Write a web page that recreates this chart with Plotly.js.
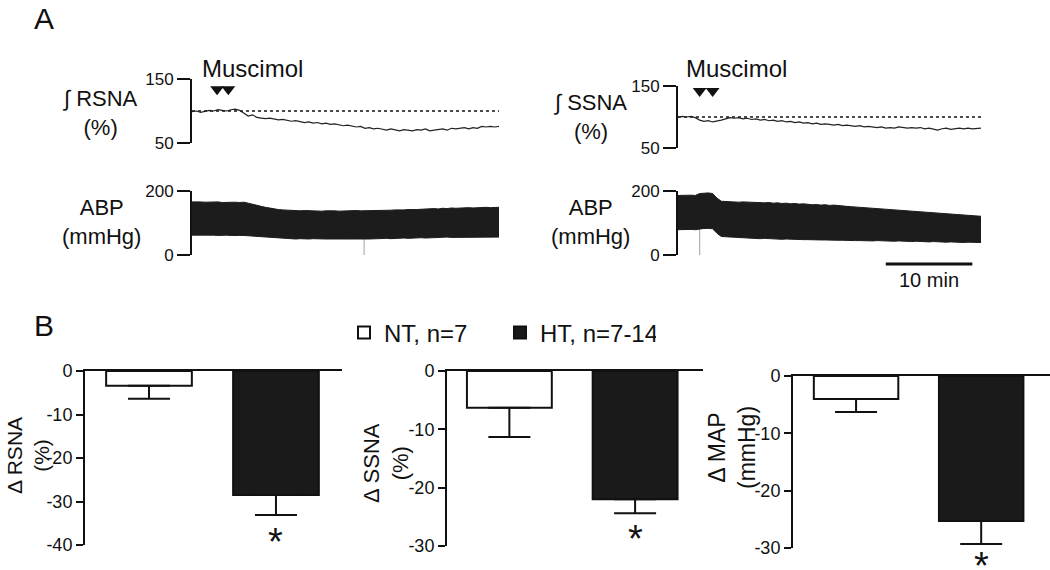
<!DOCTYPE html>
<html>
<head>
<meta charset="utf-8">
<script src="https://cdn.plot.ly/plotly-3.0.1.min.js"></script>
<style>
  html, body { margin: 0; padding: 0; background: #fff; }
  #fig { width: 1050px; height: 570px; }
</style>
</head>
<body>
<div id="fig"></div>
<script>
// ---- Panel A: recordings (sampled every 0.5 min) ----
const sampleStep = 0.5; // min

const rsnaPct = [99, 100, 98, 100, 101, 100, 102, 101, 100, 102, 103, 101, 97, 92, 94, 90,
  89, 88, 89, 87, 86, 87, 85, 84, 85, 83, 82, 83, 81, 82, 80, 81, 79, 80, 78, 77, 78, 76,
  75, 76, 73, 74, 72, 73, 71, 70, 72, 70, 69, 71, 70, 69, 71, 70, 72, 69, 70, 71, 72, 70,
  73, 72, 73, 74, 72, 74, 73, 76, 75, 76, 75, 76];

const ssnaPct = [100, 101, 100, 101, 99, 95, 93, 94, 92, 93, 95, 97, 99, 98, 99, 97, 98, 96,
  97, 95, 96, 94, 95, 93, 94, 92, 93, 91, 92, 90, 91, 89, 90, 88, 89, 88, 87, 88, 86, 87,
  86, 85, 86, 84, 85, 84, 83, 84, 82, 83, 82, 84, 83, 82, 83, 82, 83, 81, 82, 80, 79, 81,
  82, 80, 81, 82, 81, 82, 81, 82, 82];

// ABP band: systolic (upper) and diastolic (lower) envelopes, mmHg
const abpLeftUpper = [166, 167, 166, 165, 166, 165, 166, 164, 165, 166, 165, 164, 165,
  162, 158, 155, 152, 149, 146, 144, 142, 141,
  140, 139, 140, 138, 139, 138, 139, 138, 137, 138, 139, 138, 137, 138, 137, 138, 139, 138,
  138, 139, 138, 139, 140, 139, 140, 141, 140, 141, 142, 141, 142,
  143, 144, 143, 145, 144, 146, 145, 147, 146, 147, 146, 148, 147, 148, 147, 149, 148, 148, 149];
const abpLeftLower = [62, 63, 62, 62, 63, 62, 61, 62, 62, 61, 62, 61, 61,
  60, 58, 57, 56, 55, 54, 53, 52, 52,
  51, 51, 50, 51, 50, 50, 51, 50, 49, 50, 50, 49, 50, 50, 49, 50, 50, 49,
  50, 50, 51, 50, 51, 52, 51, 52, 52, 53, 52, 53, 53,
  54, 53, 54, 55, 54, 55, 56, 55, 55, 56, 55, 56, 56, 55, 56, 56, 55, 56, 56];

const abpRightUpper = [186, 187, 186, 187, 186, 192, 193, 194, 192, 178, 168,
  167, 166, 167, 165, 166, 165, 164,
  165, 164, 163, 164, 162, 163, 161, 162, 160, 161, 159, 160, 158, 157, 158, 156,
  157, 155, 156, 154, 153, 152, 151, 150, 149, 148, 147, 146, 145, 143, 142,
  141, 140, 139, 138, 137, 137, 136, 135,
  134, 133, 133, 132, 131, 130, 129, 128, 127, 126, 125, 124, 122, 121];
const abpRightLower = [79, 80, 79, 80, 79, 82, 83, 83, 82, 68, 58,
  57, 56, 55, 55, 54, 53, 53,
  52, 51, 52, 51, 50, 50, 49, 50, 49, 48, 49, 48, 48, 47, 48, 47,
  47, 46, 47, 46, 46, 45, 46, 45, 45, 44, 45, 44, 45, 44, 44,
  44, 43, 44, 43, 43, 42, 43, 42,
  42, 41, 42, 41, 41, 40, 41, 40, 40, 39, 40, 39, 39, 39];

const baselinePct = 100;
const muscimolLeftMin = [2.9, 4.2];
const muscimolRightMin = [2.5, 4.0];
const artefactLeft = { t: 19.9, y: [0, 50] };
const artefactRight = { t: 2.5, y: [0, 80] };
const scaleBarStart = 24.0; // min
const scaleBarLength = 10;  // min

// ---- Panel B: mean change and SEM ----
const groups = ['NT, n=7', 'HT, n=7-14'];
const deltaRSNA = [-3.4, -28.5];
const semRSNA = [3.0, 4.6];
const deltaSSNA = [-6.3, -22.0];
const semSSNA = [5.0, 2.4];
const deltaMAP = [-4.0, -25.3];
const semMAP = [2.3, 4.0];

const ticksRSNA = [0, -10, -20, -30, -40];
const ticksB = [0, -10, -20, -30];

// ---------------------------------------------------------------
const FONT = 'Liberation Sans, Arial, sans-serif';
const INK = '#111';
const W = 1050, H = 570;
const px = v => v / W;
const py = v => 1 - v / H;

const times = arr => arr.map((_, i) => i * sampleStep);

function recAxes(x0, x1, yTop, yBot, range, tickvals, xrange) {
    return {
        x: { domain: [px(x0), px(x1)], range: xrange, visible: false, fixedrange: true },
        y: {
            domain: [py(yBot), py(yTop)], range: range, tickvals: tickvals,
            showline: true, linewidth: 2, linecolor: INK, ticks: 'outside', ticklen: 13,
            tickwidth: 2, tickcolor: INK, showgrid: false, zeroline: false,
            tickfont: { size: 17, color: INK, family: FONT }
        }
    };
}

const a1 = recAxes(192, 499, 79, 143, [50, 150], [50, 150], [0, 35.5]);
const a2 = recAxes(678, 981, 86, 148, [50, 150], [50, 150], [0, 35]);
const a3 = recAxes(192, 499, 191, 255, [0, 200], [0, 200], [0, 35.5]);
const a4 = recAxes(678, 981, 191, 255, [0, 200], [0, 200], [0, 35]);

function barAxes(x0, x1, yTop, yBot, xrange, yrange, ticks) {
    return {
        x: {
            domain: [px(x0), px(x1)], range: xrange, side: 'top', showline: true,
            linewidth: 2, linecolor: INK, showticklabels: false, ticks: '',
            showgrid: false, zeroline: false
        },
        y: {
            domain: [py(yBot), py(yTop)], range: yrange,
            tickvals: ticks, ticktext: ticks.map(String),
            showline: true, linewidth: 2, linecolor: INK, ticks: 'outside', ticklen: 7,
            tickwidth: 2, tickcolor: INK, showgrid: false, zeroline: false,
            tickfont: { size: 18, color: INK, family: FONT }
        }
    };
}

const b1 = barAxes(85, 342, 371, 545, [-0.504, 1.52], [-40, 0], ticksRSNA);
const b2 = barAxes(447, 703, 371, 546, [-0.496, 1.54], [-30, 0], ticksB);
const b3 = barAxes(793, 1050, 376, 548, [-0.504, 1.55], [-30, 0], ticksB);

const data = [];

// recordings
function nerveTrace(t, y, xa, ya) {
    data.push({
        x: [0, t[t.length - 1]], y: [baselinePct, baselinePct], xaxis: xa, yaxis: ya,
        mode: 'lines', line: { color: INK, width: 1.5, dash: 'dot' }, showlegend: false
    });
    data.push({
        x: t, y: y, xaxis: xa, yaxis: ya, mode: 'lines',
        line: { color: '#222', width: 1.2 }, showlegend: false
    });
}
nerveTrace(times(rsnaPct), rsnaPct, 'x', 'y');
nerveTrace(times(ssnaPct), ssnaPct, 'x2', 'y2');

function markers(t, yv, xa, ya) {
    data.push({
        x: t, y: t.map(() => yv), xaxis: xa, yaxis: ya, mode: 'markers',
        marker: { symbol: 'triangle-down', size: 12, color: INK }, showlegend: false,
        cliponaxis: false
    });
}
markers(muscimolLeftMin, 134, 'x', 'y');
markers(muscimolRightMin, 142, 'x2', 'y2');

function abpBand(up, low, art, xa, ya) {
    const t = times(up);
    data.push({
        x: [art.t, art.t], y: art.y, xaxis: xa, yaxis: ya, mode: 'lines',
        line: { color: '#b0b0b0', width: 1.2 }, showlegend: false
    });
    data.push({
        x: t, y: low, xaxis: xa, yaxis: ya, mode: 'lines',
        line: { color: '#1c1c1c', width: 1 }, showlegend: false
    });
    data.push({
        x: t, y: up, xaxis: xa, yaxis: ya, mode: 'lines', fill: 'tonexty',
        fillcolor: '#1c1c1c', line: { color: '#1c1c1c', width: 1 }, showlegend: false
    });
}
abpBand(abpLeftUpper, abpLeftLower, artefactLeft, 'x3', 'y3');
abpBand(abpRightUpper, abpRightLower, artefactRight, 'x4', 'y4');

// bars
const fills = ['#ffffff', '#1a1a1a'];
function barPair(means, sems, xa, ya, legend) {
    groups.forEach((g, i) => {
        data.push({
            type: 'bar', x: [i], y: [means[i]], width: 0.675, name: g,
            xaxis: xa, yaxis: ya, showlegend: legend,
            marker: { color: fills[i], line: { color: INK, width: 2 } },
            error_y: {
                type: 'data', symmetric: false, array: [0], arrayminus: [sems[i]],
                color: INK, thickness: 2, width: 21
            }
        });
    });
}
barPair(deltaRSNA, semRSNA, 'x5', 'y5', true);
barPair(deltaSSNA, semSSNA, 'x6', 'y6', false);
barPair(deltaMAP, semMAP, 'x7', 'y7', false);

const txt = (size) => ({ size: size, color: INK, family: FONT });
const ann = (text, x, y, size, extra) => Object.assign({
    text: text, x: px(x), y: py(y), xref: 'paper', yref: 'paper',
    showarrow: false, font: txt(size), xanchor: 'center', yanchor: 'middle'
}, extra || {});

const annotations = [
    ann('A', 44, 0, 30, { yanchor: 'top' }),
    ann('B', 44, 325, 30),
    ann('∫ RSNA<br>(%)', 100, 113, 22),
    ann('ABP<br>(mmHg)', 101, 222, 22),
    ann('∫ SSNA<br>(%)', 590, 117, 22),
    ann('ABP<br>(mmHg)', 590, 222, 22),
    { text: 'Muscimol', x: 7.0, xref: 'x', y: py(68), yref: 'paper', showarrow: false,
      font: txt(24), yanchor: 'middle' },
    { text: 'Muscimol', x: 6.8, xref: 'x2', y: py(68), yref: 'paper', showarrow: false,
      font: txt(24), yanchor: 'middle' },
    { text: '10 min', x: scaleBarStart + scaleBarLength / 2, xref: 'x4', y: py(280),
      yref: 'paper', showarrow: false, font: txt(20), yanchor: 'middle' },
    ann('Δ RSNA<br>(%)', 1, 456, 21, { textangle: -90, xanchor: 'left' }),
    ann('Δ SSNA<br>(%)', 386, 463, 22, { textangle: -90 }),
    ann('Δ MAP<br>(mmHg)', 732, 448, 23, { textangle: -90 }),
    { text: '*', x: 1, xref: 'x5', y: py(542), yref: 'paper', showarrow: false,
      font: txt(38), yanchor: 'middle' },
    { text: '*', x: 1, xref: 'x6', y: py(539), yref: 'paper', showarrow: false,
      font: txt(38), yanchor: 'middle' },
    { text: '*', x: 1, xref: 'x7', y: py(566), yref: 'paper', showarrow: false,
      font: txt(38), yanchor: 'middle' }
];

const shapes = [{
    type: 'line', xref: 'x4', yref: 'paper',
    x0: scaleBarStart, x1: scaleBarStart + scaleBarLength, y0: py(264), y1: py(264),
    line: { color: INK, width: 3 }
}];

const layout = {
    width: W, height: H,
    margin: { l: 0, r: 0, t: 0, b: 0 },
    paper_bgcolor: '#fff', plot_bgcolor: 'rgba(0,0,0,0)',
    font: { family: FONT, color: INK },
    barmode: 'overlay',
    showlegend: true,
    legend: {
        orientation: 'h', x: px(344), xanchor: 'left', y: py(333), yanchor: 'middle',
        font: txt(24), bgcolor: 'rgba(0,0,0,0)', traceorder: 'normal',
        entrywidth: 111, entrywidthmode: 'pixels'
    },
    xaxis: a1.x, yaxis: a1.y,
    xaxis2: Object.assign(a2.x, { anchor: 'y2' }), yaxis2: Object.assign(a2.y, { anchor: 'x2' }),
    xaxis3: Object.assign(a3.x, { anchor: 'y3' }), yaxis3: Object.assign(a3.y, { anchor: 'x3' }),
    xaxis4: Object.assign(a4.x, { anchor: 'y4' }), yaxis4: Object.assign(a4.y, { anchor: 'x4' }),
    xaxis5: Object.assign(b1.x, { anchor: 'y5' }), yaxis5: Object.assign(b1.y, { anchor: 'x5' }),
    xaxis6: Object.assign(b2.x, { anchor: 'y6' }), yaxis6: Object.assign(b2.y, { anchor: 'x6' }),
    xaxis7: Object.assign(b3.x, { anchor: 'y7' }), yaxis7: Object.assign(b3.y, { anchor: 'x7' }),
    annotations: annotations,
    shapes: shapes
};

Plotly.newPlot('fig', data, layout, { staticPlot: true, displayModeBar: false });
</script>
</body>
</html>
